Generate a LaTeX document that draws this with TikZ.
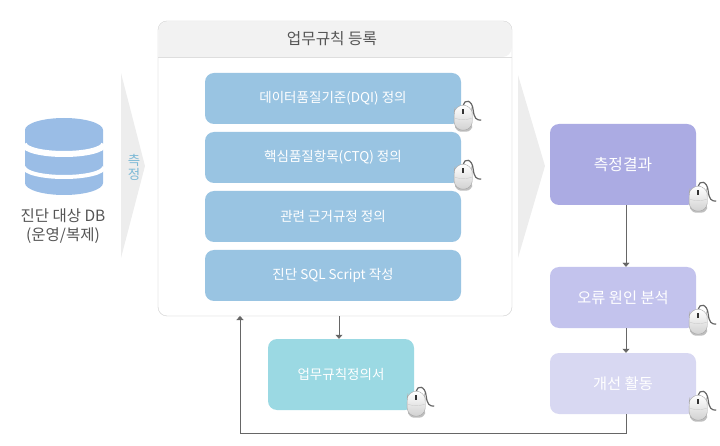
\documentclass[tikz,border=0pt]{standalone}
\usepackage{fontspec}
\setmainfont{Noto Sans CJK KR}
\usetikzlibrary{arrows.meta, positioning}
\definecolor{barblue}{HTML}{99C4E2}
\definecolor{dbblue}{HTML}{9ABDE6}
\definecolor{docteal}{HTML}{9BD9E3}
\definecolor{resultviolet}{HTML}{ABABE3}
\definecolor{causeviolet}{HTML}{C3C3ED}
\definecolor{actionviolet}{HTML}{D8D8F2}
\definecolor{panelline}{HTML}{DEDEDE}
\definecolor{headfill}{HTML}{F2F2F2}
\definecolor{chevron}{HTML}{EDEDED}
\definecolor{linkgray}{HTML}{666666}
\definecolor{textgray}{HTML}{555555}
\definecolor{measureblue}{HTML}{7CB9D6}
\tikzset{
  block/.style={rectangle,rounded corners=9,text=white,font=\fontsize{13.5}{16}\selectfont,minimum width=256,inner sep=0},
  barblock/.style={block,fill=barblue,minimum height=51},
  sideblock/.style={block,minimum width=146},
  mouseicon/.pic={
    \draw[linkgray,line width=1.2] (2,-19) .. controls (3,-25) and (11,-25) .. (12,-14) .. controls (13,-6) and (15,-4) .. (20,-4);
    \fill[black!25,rounded corners=6] (-6,-2) -- (-6,7.5) -- (11,7.5) -- (11,-2) -- cycle;
    \draw[black!35,top color=white,bottom color=black!18,rounded corners=8] (-7.5,-9) -- (-6.5,6) -- (10.5,6) -- (11.5,-9) -- (10,-19) -- (-6,-19) -- cycle;
    \draw[black!20] (-6.5,-6) .. controls (-1,-4) and (5,-4) .. (10.5,-6);
    \fill[black!80] (1.2,-15) rectangle (2.8,-10);
  }
}
\begin{document}
\begin{tikzpicture}[x=1pt,y=-1pt,node distance=59pt,>={Triangle[length=4pt,width=7pt]}]
    \useasboundingbox (0,0) rectangle (720,446);
    % database
    \fill[dbblue] (25,130) arc[start angle=180,end angle=360,x radius=39,y radius=12] -- (103,183) arc[start angle=0,end angle=180,x radius=39,y radius=12] -- cycle;
    \draw[white,line width=6] (24,144) arc[start angle=180,end angle=0,x radius=40,y radius=10];
    \draw[white,line width=4] (24,167) arc[start angle=180,end angle=0,x radius=40,y radius=10];
    \node[text=textgray,align=center,font=\fontsize{15.5}{19}\selectfont] (dbname) at (63,226) {진단 대상 DB\\(운영/복제)};
    % arrows between the stages
    \fill[chevron] (121,73) -- (145,166) -- (121,258) -- cycle;
    \fill[chevron] (518,75) -- (545,166) -- (518,258) -- cycle;
    \node[text=measureblue,align=center,font=\fontsize{13.5}{15}\selectfont] (measure) at (134,167) {측\\[-1pt]정};
    % rule panel
    \node[draw=panelline,fill=white,rounded corners=9,minimum width=354,minimum height=295,inner sep=0] (panel) at (335,168.5) {};
    \fill[headfill,rounded corners=9] (158.5,57) -- (158.5,21.5) -- (511.5,21.5) -- (511.5,57) [sharp corners] -- cycle;
    \draw[panelline] (158,57) -- (512,57);
    \draw[panelline,rounded corners=9] (158,21) rectangle (512,316);
    \node[text=textgray,font=\fontsize{15.7}{18}\selectfont] (title) at (332,39) {업무규칙 등록};
    \node[barblock] (dqi) at (333,98.5) {데이터품질기준(DQI) 정의};
    \node[barblock, below of=dqi] (ctq) {핵심품질항목(CTQ) 정의};
    \node[barblock, below of=ctq] (rule) {관련 근거규정 정의};
    \node[barblock, below of=rule] (script) {진단 SQL Script 작성};
    % right column
    \node[sideblock,fill=resultviolet,minimum height=81] (result) at (623,164.5) {\fontsize{15.8}{18}\selectfont 측정결과};
    \node[sideblock,fill=causeviolet,minimum height=61, below of=result, node distance=133pt] (cause) {\fontsize{15.3}{18}\selectfont 오류 원인 분석};
    \node[sideblock,fill=actionviolet,minimum height=61, below of=cause, node distance=86pt] (action) {\fontsize{15.3}{18}\selectfont 개선 활동};
    \node[sideblock,fill=docteal,minimum height=71] (doc) at (341,374.5) {업무규칙정의서};
    % mouse icons
    \pic at (dqi.south east) {mouseicon};
    \pic at (ctq.south east) {mouseicon};
    \pic at (doc.south east) {mouseicon};
    \pic at (result.south east) {mouseicon};
    \pic at (cause.south east) {mouseicon};
    \pic at (action.south east) {mouseicon};
    % links
    \coordinate (panelout) at (339,316);
    \coordinate (panelback) at (240,316);
    \coordinate (turn) at (240,433);
    \draw[->,linkgray] (panelout) -- (panelout |- doc.north);
    \draw[->,linkgray] ([xshift=3pt]result.south) -- ([xshift=3pt]cause.north);
    \draw[->,linkgray] ([xshift=3pt]cause.south) -- ([xshift=3pt]action.north);
    \draw[->,linkgray] ([xshift=3pt]action.south) |- (turn) -- (panelback);
\end{tikzpicture}
\end{document}
